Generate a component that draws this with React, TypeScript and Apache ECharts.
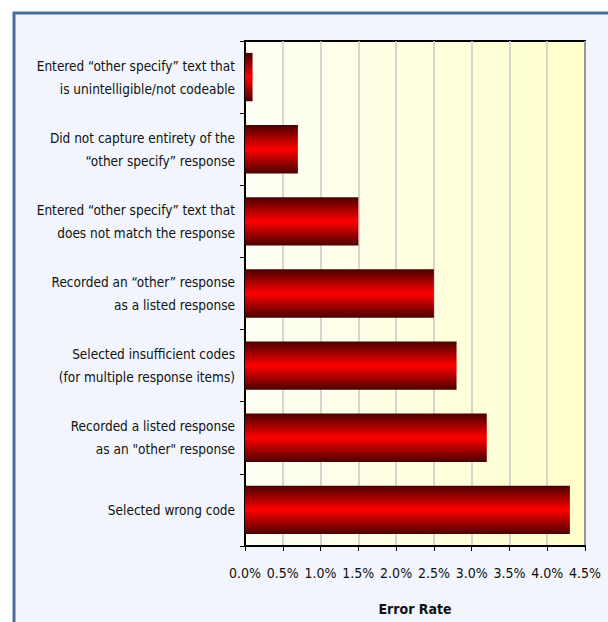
import React, { useEffect, useRef } from "react";
import * as echarts from "echarts";

const categories = [
  "Entered “other specify” text that\nis unintelligible/not codeable",
  "Did not capture entirety of the\n“other specify” response",
  "Entered “other specify” text that\ndoes not match the response",
  "Recorded an “other” response\nas a listed response",
  "Selected insufficient codes\n(for multiple response items)",
  "Recorded a listed response\nas an \"other\" response",
  "Selected wrong code",
];
const errorRates = [0.1, 0.7, 1.5, 2.5, 2.8, 3.2, 4.3];
const xTicks = [0, 0.5, 1.0, 1.5, 2.0, 2.5, 3.0, 3.5, 4.0, 4.5];
const xAxisTitle = "Error Rate";

const FONT = "'Liberation Sans Narrow', 'DejaVu Sans Condensed', sans-serif";

export default function App() {
  const ref = useRef<HTMLDivElement>(null);
  useEffect(() => {
    if (!ref.current) return;
    const chart = echarts.init(ref.current, null, { renderer: "svg" });
    chart.setOption({
      animation: false,
      backgroundColor: "#ffffff",
      graphic: [
        {
          type: "rect",
          shape: { x: 14, y: 13, width: 700, height: 700 },
          style: { fill: "#f2f5fb", stroke: "#4c6d9c", lineWidth: 3 },
          z: -10,
          silent: true,
        },
      ],
      grid: {
        left: 245,
        top: 41,
        right: 23,
        bottom: 76,
        show: true,
        borderColor: "#000",
        borderWidth: 2,
        backgroundColor: new echarts.graphic.LinearGradient(0, 0, 1, 0, [
          { offset: 0, color: "#fffff6" },
          { offset: 1, color: "#ffffcc" },
        ]),
      },
      xAxis: {
        type: "value",
        min: xTicks[0],
        max: xTicks[xTicks.length - 1],
        interval: 0.5,
        name: xAxisTitle,
        nameLocation: "middle",
        nameGap: 56,
        nameTextStyle: { fontFamily: FONT, fontSize: 14, fontWeight: "bold", color: "#111" },
        axisLine: { show: true, lineStyle: { color: "#000", width: 2 } },
        axisTick: { show: true, length: 5, lineStyle: { color: "#000" } },
        splitLine: { show: true, lineStyle: { color: "#c8c8c8", width: 1.5 } },
        axisLabel: {
          fontFamily: FONT,
          fontSize: 14,
          color: "#111",
          margin: 20,
          formatter: (v: number) => v.toFixed(1) + "%",
        },
      },
      yAxis: {
        type: "category",
        data: categories,
        inverse: true,
        axisLine: { show: true, lineStyle: { color: "#000", width: 2 } },
        axisTick: { show: true, length: 5, lineStyle: { color: "#000" } },
        axisLabel: {
          fontFamily: FONT,
          fontSize: 13.5,
          color: "#111",
          margin: 10,
          lineHeight: 23,
          align: "right",
        },
        splitLine: { show: false },
      },
      series: [
        {
          type: "bar",
          data: errorRates,
          barWidth: "67%",
          itemStyle: {
            color: new echarts.graphic.LinearGradient(0, 0, 0, 1, [
              { offset: 0, color: "#4a0000" },
              { offset: 0.5, color: "#ff0000" },
              { offset: 1, color: "#4a0000" },
            ]),
          },
        },
      ],
    });
    return () => chart.dispose();
  }, []);
  return (
    <div
      ref={ref}
      style={{ position: "fixed", left: 0, top: 0, width: 608, height: 622 }}
    />
  );
}
